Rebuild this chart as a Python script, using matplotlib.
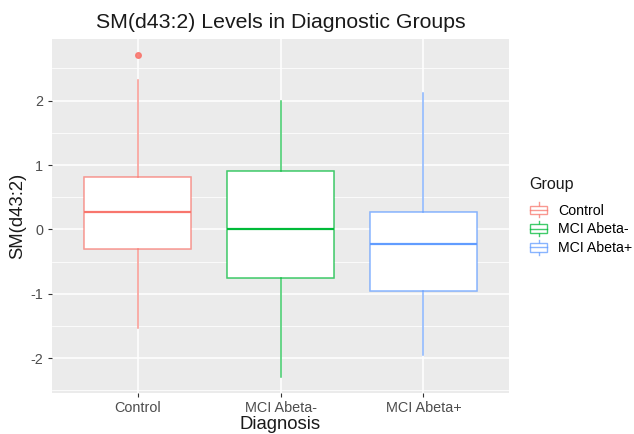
import matplotlib.pyplot as plt
from matplotlib.colors import to_rgba
from matplotlib.legend_handler import HandlerBase
from matplotlib.lines import Line2D
from matplotlib.patches import Rectangle

plt.rcParams['font.family'] = ['Liberation Sans', 'DejaVu Sans']
plt.rcParams['axes.unicode_minus'] = False

groups = ['Control', 'MCI Abeta-', 'MCI Abeta+']
colors = ['#F8766D', '#00BA38', '#619CFF']
q1 = [-0.31, -0.75, -0.96]
medians = [0.27, 0.0, -0.23]
q3 = [0.82, 0.90, 0.27]
whislo = [-1.53, -2.29, -1.95]
whishi = [2.32, 2.00, 2.12]
outliers = [[2.71], [], []]

stats = []
for i, g in enumerate(groups):
    stats.append(dict(label=g, q1=q1[i], med=medians[i], q3=q3[i],
                      whislo=whislo[i], whishi=whishi[i], fliers=outliers[i]))

fig = plt.figure(figsize=(6.34, 4.34), dpi=100)
ax = fig.add_axes([0.082, 0.0945, 0.721, 0.816])
ax.set_facecolor('#EBEBEB')

# ggplot-like grid
ax.set_yticks([-2, -1, 0, 1, 2])
ax.set_yticks([-2.5, -1.5, -0.5, 0.5, 1.5, 2.5], minor=True)
ax.grid(True, which='major', color='white', linewidth=1.1)
ax.grid(True, which='minor', axis='y', color='white', linewidth=0.55)
ax.set_axisbelow(True)
for s in ax.spines.values():
    s.set_visible(False)

pos = [1, 2, 3]
for i, st in enumerate(stats):
    c = to_rgba(colors[i], 0.75)
    ax.bxp([st], positions=[pos[i]], widths=0.75, patch_artist=True,
           showcaps=False,
           boxprops=dict(facecolor='white', edgecolor=c, linewidth=1.1),
           medianprops=dict(color=colors[i], linewidth=1.6),
           whiskerprops=dict(color=c, linewidth=1.1),
           flierprops=dict(marker='o', markerfacecolor=colors[i],
                           markeredgecolor=colors[i], markersize=4, alpha=0.9))

ax.set_xlim(0.4, 3.6)
ax.set_ylim(-2.54, 2.96)
ax.set_xticks(pos)
ax.set_xticklabels(groups)
ax.tick_params(axis='both', colors='#333333', length=3, width=0.8,
               labelsize=10.4, labelcolor='#4D4D4D')
ax.tick_params(axis='x', pad=2.5)
ax.tick_params(axis='both', which='minor', length=0)
ax.set_xlabel('Diagnosis', fontsize=13.3, labelpad=1, color='#1A1A1A')
ax.set_ylabel('SM(d43:2)', fontsize=13.3, labelpad=3, color='#1A1A1A')
ax.set_title('SM(d43:2) Levels in Diagnostic Groups', fontsize=15.3, pad=8,
             color='#1A1A1A')


class BoxKeyHandler(HandlerBase):
    def create_artists(self, legend, orig_handle, xdescent, ydescent,
                       width, height, fontsize, trans):
        c = to_rgba(orig_handle.get_color(), 0.75)
        cx = width / 2 - xdescent
        bw = width * 0.9
        y0 = -ydescent
        rect = Rectangle((cx - bw / 2, y0 + height * 0.2), bw, height * 0.6,
                         facecolor='white', edgecolor=c, linewidth=1.0,
                         transform=trans)
        med = Line2D([cx - bw / 2, cx + bw / 2], [y0 + height / 2] * 2,
                     color=c, linewidth=1.0, transform=trans)
        w1 = Line2D([cx, cx], [y0 - height * 0.05, y0 + height * 0.2], color=c,
                    linewidth=1.0, transform=trans)
        w2 = Line2D([cx, cx], [y0 + height * 0.8, y0 + height * 1.05], color=c,
                    linewidth=1.0, transform=trans)
        return [w1, w2, rect, med]


handles = [Line2D([], [], color=c) for c in colors]
leg = fig.legend(handles, groups, title='Group', loc='upper left',
                 bbox_to_anchor=(0.815, 0.622), frameon=False, fontsize=10.2,
                 title_fontsize=11.5, handler_map={Line2D: BoxKeyHandler()},
                 handlelength=1.3, handleheight=1.1, handletextpad=0.7,
                 labelspacing=0.3)
leg._legend_box.align = 'left'
leg._legend_box.sep = 8
leg.get_title().set_color('#1A1A1A')

fig.savefig('out.png', dpi=100)
